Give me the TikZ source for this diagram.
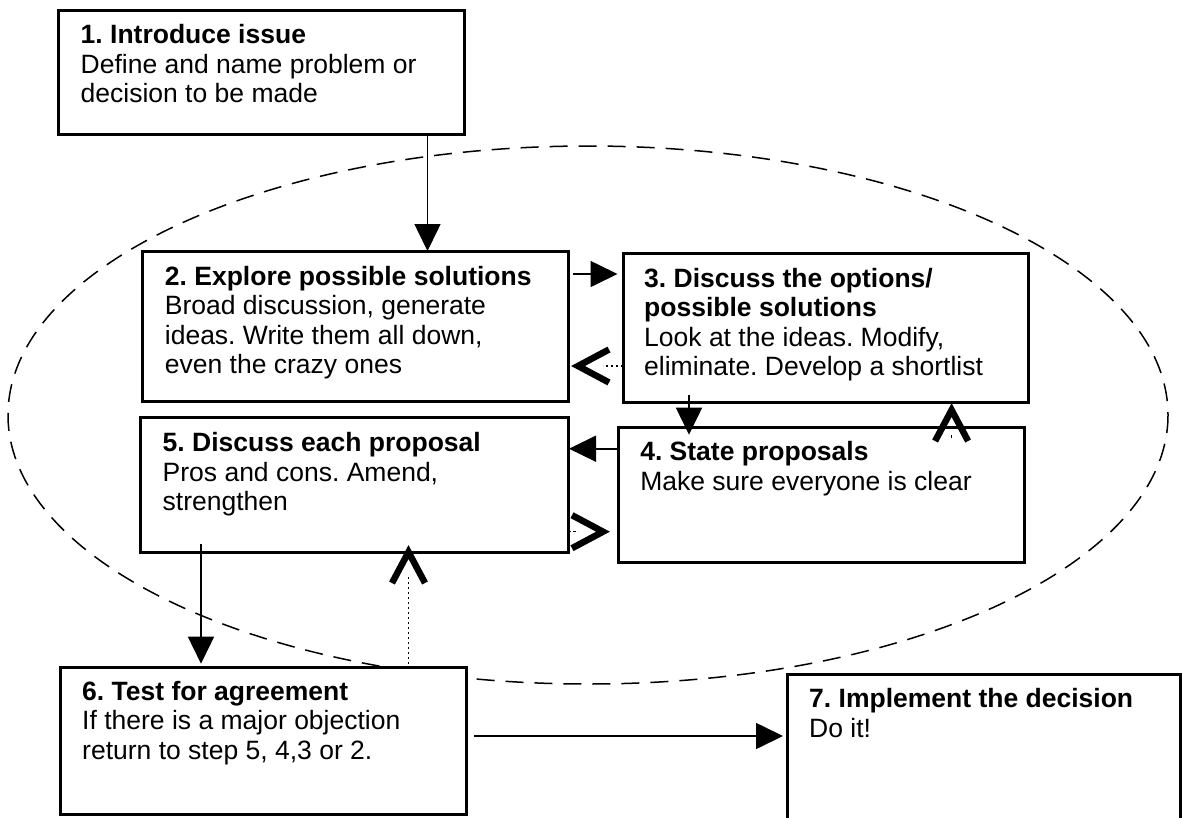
\documentclass[tikz,border=0pt]{standalone}
\usepackage{fontspec}
\setmainfont{Liberation Sans}
\usetikzlibrary{arrows.meta}
\frenchspacing

% open chevron, the line stops at its back
\pgfdeclarearrow{
  name = Chevron,
  parameters = {\the\pgfarrowlength,\the\pgfarrowwidth},
  setup code = {
    \pgfarrowssettipend{0pt}
    \pgfarrowssetlineend{-32pt}
    \pgfarrowssetbackend{-\pgfarrowlength}
    \pgfarrowssavethe\pgfarrowlength
    \pgfarrowssavethe\pgfarrowwidth
  },
  drawing code = {
    \pgfsetdash{}{0pt}
    \pgfsetlinewidth{6.5pt}
    \pgfsetbuttcap
    \pgfsetmiterjoin
    \pgfpathmoveto{\pgfqpoint{-\pgfarrowlength}{.5\pgfarrowwidth}}
    \pgfpathlineto{\pgfqpoint{-7pt}{0pt}}
    \pgfpathlineto{\pgfqpoint{-\pgfarrowlength}{-.5\pgfarrowwidth}}
    \pgfusepathqstroke
  },
  defaults = {length = 38pt, width = 33pt}
}

\tikzset{
  stepbox/.style={draw, fill=white, line width=3pt, anchor=north west,
    inner sep=0pt, outer sep=0pt},
  steptext/.style={anchor=north west, align=left, inner sep=0pt,
    font=\fontsize{26.5}{29.5}\selectfont},
  arrowline/.style={line width=1.6pt, -{Triangle[length=27pt, width=26pt]}},
  returnline/.style={line width=1.5pt, dash pattern=on 2.5pt off 2.5pt, -{Chevron}},
  cycleline/.style={line width=1.5pt, dash pattern=on 18pt off 11pt}
}

\begin{document}
\begin{tikzpicture}[x=1pt, y=-1pt]
  \useasboundingbox (0,0) rectangle (1183,817);

  % the loop of steps 2 to 6
  \draw[cycleline] (588,415) ellipse [x radius=580, y radius=269];

  % Steps
  \node[stepbox, minimum width=405.5pt, minimum height=123.3pt] (b1) at (58.5,10.7) {};
  \node[steptext] (t1) at ([xshift=22pt,yshift=-12pt]b1.north west)
    {\strut\textbf{1. Introduce issue}\\Define and name problem or\\decision to be made};

  \node[stepbox, minimum width=425.3pt, minimum height=150pt] (b2) at (142.7,251) {};
  \node[steptext] (t2) at ([xshift=22pt,yshift=-13.5pt]b2.north west)
    {\strut\textbf{2. Explore possible solutions}\\Broad discussion, generate\\ideas. Write them all down,\\even the crazy ones};

  \node[stepbox, minimum width=405pt, minimum height=149pt] (b3) at (623,253) {};
  \node[steptext] (t3) at ([xshift=21pt,yshift=-13.5pt]b3.north west)
    {\strut\textbf{3. Discuss the options/}\\\textbf{possible solutions}\\Look at the ideas. Modify,\\eliminate. Develop a shortlist};

  \node[stepbox, minimum width=405.4pt, minimum height=135pt] (b4) at (618.6,427.7) {};
  \node[steptext] (t4) at ([xshift=21.5pt,yshift=-12pt]b4.north west)
    {\strut\textbf{4. State proposals}\\Make sure everyone is clear};

  \node[stepbox, minimum width=427.5pt, minimum height=135pt] (b5) at (140.5,417.7) {};
  \node[steptext] (t5) at ([xshift=22pt,yshift=-13pt]b5.north west)
    {\strut\textbf{5. Discuss each proposal}\\Pros and cons. Amend,\\strengthen};

  \node[stepbox, minimum width=405.5pt, minimum height=147pt] (b6) at (60.5,667) {};
  \node[steptext] (t6) at ([xshift=21.5pt,yshift=-12.5pt]b6.north west)
    {\strut\textbf{6. Test for agreement}\\If there is a major objection\\return to step 5, 4,3 or 2.};

  \node[stepbox, minimum width=393pt, minimum height=170pt] (b7) at (787,674.7) {};
  \node[steptext] (t7) at ([xshift=22pt,yshift=-12pt]b7.north west)
    {\strut\textbf{7. Implement the decision}\\Do it!};

  % forward
  \draw[arrowline] ([xshift=369pt]b1.south west) -- ([xshift=369pt]b1.south west |- b2.north);
  \draw[arrowline, shorten <=5pt, shorten >=5.5pt] ([yshift=-23pt]b2.north east) -- ([yshift=-23pt]b2.north east -| b3.west);
  \draw[arrowline, shorten <=-7pt, shorten >=-7pt] ([xshift=66pt]b3.south west) -- ([xshift=66pt]b3.south west |- b4.north);
  \draw[arrowline, shorten >=1pt] ([yshift=-21pt]b4.north west) -- ([yshift=-21pt]b4.north west -| b5.east);
  \draw[arrowline, shorten <=-9pt, shorten >=3.3pt] ([xshift=60.5pt]b5.south west) -- ([xshift=60.5pt]b5.south west |- b6.north);
  \draw[arrowline, shorten <=8pt, shorten >=4pt] ([yshift=-69pt]b6.north east) -- ([yshift=-69pt]b6.north east -| b7.west);

  % back
  \draw[returnline, shorten >=3pt] ([yshift=-113pt]b3.north west) -- ([yshift=-113pt]b3.north west -| b2.east);
  \draw[returnline, shorten >=1pt] ([xshift=333pt,yshift=-10pt]b4.north west) -- ([xshift=333pt]b4.north west |- b3.south);
  \draw[returnline, shorten >=8.6pt] ([yshift=-114pt]b5.north east) -- ([yshift=-114pt]b5.north east -| b4.west);
  \draw[returnline, shorten <=3pt, shorten >=-7.7pt] ([xshift=348pt]b6.north west) -- ([xshift=348pt]b6.north west |- b5.south);
\end{tikzpicture}
\end{document}
